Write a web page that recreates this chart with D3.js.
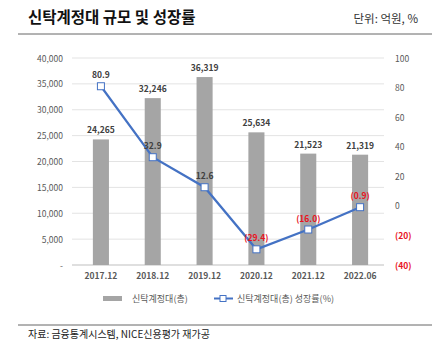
<!DOCTYPE html>
<html>
<head>
<meta charset="utf-8">
<script src="https://cdn.jsdelivr.net/npm/d3@7"></script>
<style>
  body { margin: 0; background: #fff; font-family: "Noto Sans CJK KR", "Noto Sans", sans-serif; }
  text { font-family: "Noto Sans CJK KR", "Noto Sans", sans-serif; }
</style>
</head>
<body>
<div id="chart"></div>
<script>
// Chart data
const periods = ["2017.12", "2018.12", "2019.12", "2020.12", "2021.12", "2022.06"];
const balance = [24265, 32246, 36319, 25634, 21523, 21319];
const growth = [80.9, 32.9, 12.6, -29.4, -16.0, -0.9];
const leftTicks = [0, 5000, 10000, 15000, 20000, 25000, 30000, 35000, 40000];
const rightTicks = [-40, -20, 0, 20, 40, 60, 80, 100];

const width = 432, height = 354;
const barColor = "#a5a5a5";
const lineColor = "#4472c4";
const red = "#e8141e";

const svg = d3.select("#chart").append("svg")
  .attr("width", width)
  .attr("height", height);

// Title and unit
svg.append("text")
  .attr("x", 28).attr("y", 23)
  .attr("font-size", 15.5).attr("font-weight", "bold").attr("fill", "#111")
  .text("신탁계정대 규모 및 성장률");
svg.append("text")
  .attr("x", 418).attr("y", 23)
  .attr("text-anchor", "end")
  .attr("font-size", 11.5).attr("fill", "#333")
  .text("단위: 억원, %");
svg.append("line")
  .attr("x1", 18).attr("x2", width).attr("y1", 34).attr("y2", 34)
  .attr("stroke", "#666").attr("stroke-width", 1);

// Scales
const x = d3.scaleBand().domain(periods).range([75, 386]).paddingInner(0.69).paddingOuter(0.345);
const yL = d3.scaleLinear().domain([0, 40000]).range([265, 58]);
const yR = d3.scaleLinear().domain([-40, 100]).range([265, 58]);

// Grid lines
svg.append("g").selectAll("line")
  .data(leftTicks)
  .join("line")
  .attr("x1", 72).attr("x2", 384)
  .attr("y1", d => yL(d)).attr("y2", d => yL(d))
  .attr("stroke", d => d === 0 ? "#bfbfbf" : "#e3e3e3")
  .attr("stroke-width", 1);

// Left axis labels
svg.append("g").selectAll("text")
  .data(leftTicks)
  .join("text")
  .attr("x", 63).attr("y", d => yL(d) + 3.5)
  .attr("text-anchor", "end")
  .attr("font-size", 8.5).attr("fill", "#595959")
  .text(d => d === 0 ? "-" : d3.format(",")(d));

// Right axis labels
svg.append("g").selectAll("text")
  .data(rightTicks)
  .join("text")
  .attr("x", 395).attr("y", d => yR(d) + 3.5)
  .attr("font-size", 8.5)
  .attr("font-weight", d => d < 0 ? "bold" : "normal")
  .attr("fill", d => d < 0 ? red : "#595959")
  .text(d => d < 0 ? `(${-d})` : d);

// Bars
svg.append("g").selectAll("rect")
  .data(balance)
  .join("rect")
  .attr("x", (d, i) => x(periods[i]))
  .attr("width", x.bandwidth())
  .attr("y", d => yL(d))
  .attr("height", d => yL(0) - yL(d))
  .attr("fill", barColor);

// Bar labels
svg.append("g").selectAll("text")
  .data(balance)
  .join("text")
  .attr("x", (d, i) => x(periods[i]) + x.bandwidth() / 2)
  .attr("y", d => yL(d) - 6)
  .attr("text-anchor", "middle")
  .attr("font-size", 8.5).attr("font-weight", "bold").attr("fill", "#404040")
  .text(d => d3.format(",")(d));

// Growth line
const cx = i => x(periods[i]) + x.bandwidth() / 2;
const line = d3.line().x((d, i) => cx(i)).y(d => yR(d));
svg.append("path")
  .datum(growth)
  .attr("d", line)
  .attr("fill", "none")
  .attr("stroke", lineColor)
  .attr("stroke-width", 2.2);

svg.append("g").selectAll("rect")
  .data(growth)
  .join("rect")
  .attr("x", (d, i) => cx(i) - 3.5)
  .attr("y", d => yR(d) - 3.5)
  .attr("width", 7).attr("height", 7)
  .attr("fill", "#fff")
  .attr("stroke", lineColor).attr("stroke-width", 1);

// Growth labels
svg.append("g").selectAll("text")
  .data(growth)
  .join("text")
  .attr("x", (d, i) => cx(i))
  .attr("y", d => yR(d) - 8)
  .attr("text-anchor", "middle")
  .attr("font-size", 8.5).attr("font-weight", "bold")
  .attr("fill", d => d < 0 ? red : "#404040")
  .text(d => d < 0 ? `(${(-d).toFixed(1)})` : d.toFixed(1));

// X axis labels
svg.append("g").selectAll("text")
  .data(periods)
  .join("text")
  .attr("x", d => x(d) + x.bandwidth() / 2)
  .attr("y", 279)
  .attr("text-anchor", "middle")
  .attr("font-size", 8.5).attr("font-weight", "bold").attr("fill", "#595959")
  .text(d => d);

// Legend
const legend = svg.append("g");
legend.append("rect")
  .attr("x", 103).attr("y", 296).attr("width", 19).attr("height", 5)
  .attr("fill", barColor);
legend.append("text")
  .attr("x", 132).attr("y", 302)
  .attr("font-size", 9).attr("fill", "#595959")
  .text("신탁계정대(총)");
legend.append("line")
  .attr("x1", 214).attr("x2", 233).attr("y1", 298.5).attr("y2", 298.5)
  .attr("stroke", lineColor).attr("stroke-width", 2);
legend.append("rect")
  .attr("x", 220).attr("y", 295.5).attr("width", 6).attr("height", 6)
  .attr("fill", "#fff").attr("stroke", lineColor).attr("stroke-width", 1);
legend.append("text")
  .attr("x", 237).attr("y", 302)
  .attr("font-size", 9).attr("fill", "#595959")
  .text("신탁계정대(총) 성장률(%)");

// Footer
svg.append("line")
  .attr("x1", 18).attr("x2", width).attr("y1", 325).attr("y2", 325)
  .attr("stroke", "#666").attr("stroke-width", 1);
svg.append("text")
  .attr("x", 28).attr("y", 338)
  .attr("font-size", 10).attr("fill", "#222")
  .text("자료: 금융통계시스템, NICE신용평가 재가공");
</script>
</body>
</html>
